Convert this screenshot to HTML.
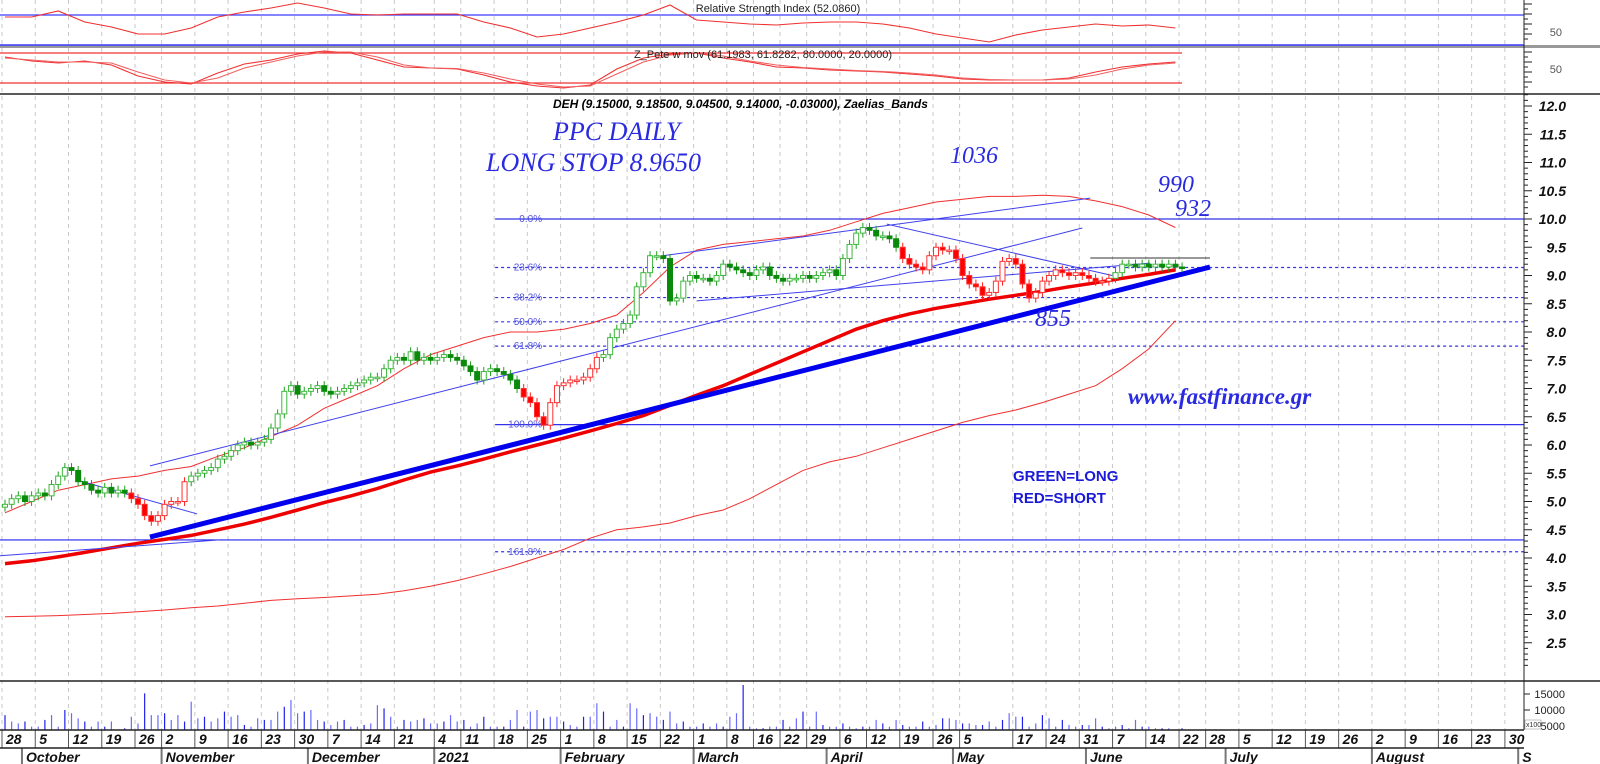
<!DOCTYPE html>
<html><head><meta charset="utf-8"><style>
html,body{margin:0;padding:0;background:#fff;overflow:hidden}
svg{display:block}
</style></head><body>
<svg id="chart" width="1600" height="764" viewBox="0 0 1600 764" xmlns="http://www.w3.org/2000/svg" font-family="'Liberation Sans',Arial,sans-serif">
<g id="grid"></g>
<g id="rsi"></g>
<g id="zp"></g>
<g id="main"></g>
<g id="vol"></g>
<g id="axis"></g>
<text x="778" y="12" font-size="11" text-anchor="middle" fill="#222">Relative Strength Index (52.0860)</text>
<text x="763" y="58" font-size="11" text-anchor="middle" fill="#222">Z_Pete w mov (61.1983, 61.8282, 80.0000, 20.0000)</text>
<text x="553" y="108" font-size="12" font-weight="bold" font-style="italic" fill="#000">DEH (9.15000, 9.18500, 9.04500, 9.14000, -0.03000), Zaelias_Bands</text>
<g style="font-family:'Liberation Serif','DejaVu Serif',serif;font-style:italic" fill="#2a2ae0">
<text x="553" y="140" font-size="26">PPC DAILY</text>
<text x="486" y="171" font-size="26">LONG STOP 8.9650</text>
<text x="950" y="163" font-size="24">1036</text>
<text x="1158" y="192" font-size="24">990</text>
<text x="1175" y="216" font-size="24">932</text>
<text x="1035" y="326" font-size="24">855</text>
<text x="1128" y="404" font-size="23" font-weight="bold">www.fastfinance.gr</text>
</g>
<text x="1013" y="481" font-size="15" font-weight="bold" fill="#1a1ad8">GREEN=LONG</text>
<text x="1013" y="503" font-size="15" font-weight="bold" fill="#1a1ad8">RED=SHORT</text>
</svg>
<script>
// ---- data ----
const closes = [4.95,5.05,5.1,5.0,5.1,5.15,5.1,5.3,5.45,5.6,
5.55,5.35,5.3,5.2,5.15,5.25,5.15,5.2,5.15,5.05,
4.95,4.75,4.65,4.75,4.95,5.0,5.0,5.35,5.45,
5.5,5.55,5.6,5.75,5.8,5.9,6.0,6.05,6.0,6.05,
6.1,6.3,6.55,6.95,7.05,6.9,6.95,7.0,7.05,6.95,
6.9,6.95,7.0,7.05,7.1,7.15,7.2,7.2,7.35,7.5,
7.55,7.5,7.65,7.5,7.55,7.5,7.55,7.6,7.55,
7.5,7.4,7.3,7.15,7.3,7.35,7.3,7.25,7.15,7.0,
6.85,6.75,6.5,6.35,6.75,7.05,7.1,7.15,7.15,7.2,
7.35,7.55,7.6,7.9,8.05,8.15,8.3,8.8,9.05,9.35,
9.35,9.3,8.55,8.6,8.9,9.0,8.95,8.95,8.9,
9.0,9.2,9.15,9.1,9.05,9.0,9.1,9.15,9.0,8.95,
8.9,8.95,8.95,9.0,8.95,9.0,9.05,9.1,9.0,9.3,
9.55,9.75,9.85,9.8,9.7,9.7,9.65,9.5,9.3,9.2,
9.15,9.1,9.35,9.5,9.45,9.45,9.3,9.0,8.85,
8.8,8.65,8.7,8.9,9.25,9.3,9.2,8.85,8.6,8.7,
8.9,9.0,9.1,9.05,9.0,9.05,9.0,8.95,8.9,8.9,
8.95,9.05,9.2,9.2,9.15,9.2,9.15,9.2,9.15,9.2,9.15,9.14];
const shortRanges = [[19,27],[78,89],[135,166]];
const volumes = [8400,6400,5800,6400,4800,4800,6900,8400,4800,10000,9000,7400,6400,4800,6400,4800,6400,3800,4300,7900,5800,15200,8400,8400,9000,6900,8400,6400,12600,7400,7900,6400,7400,9500,7900,8400,5300,4800,7400,6900,6900,9500,11000,13100,9000,9500,10000,6900,6400,5300,6400,6900,4800,4800,5300,5800,11500,10500,7900,4800,6900,6400,6900,7400,5800,5800,6400,8400,6400,6900,4800,5800,7900,4800,4800,4800,6900,10000,4800,9500,10000,7400,7900,7900,6400,5300,4800,7900,7900,12100,9500,4800,6900,4800,12100,10500,8400,9000,7900,6900,9500,5800,6400,4800,4800,5800,4800,5800,4800,7900,9000,17800,
4800,4300,4300,4800,4800,6900,4800,7400,9500,4800,9500,5300,4800,4800,5800,4800,4300,4800,4800,6900,5800,4800,6900,5300,4800,4800,6400,4800,5300,7400,7400,6900,5800,5800,5300,5300,6400,4800,6900,9000,7900,7900,4800,5800,8400,7400,4800,6900,5300,4800,5300,5300,7400,4800,4300,4800,5300,4300,6900,4800,4800,4300,4300,4300,3800,4300];
const rsiVals = [67.6,67.6,74.7,61.8,55.9,47.6,47.6,54.7,67.6,73.5,78.2,84.1,78.2,71.2,70,71.2,71.2,71.2,61.8,54.7,44.1,47.6,54.7,61.8,70,81.8,64.1,61.8,59.4,58.2,60.6,61.8,61.8,59.4,54.7,47.6,42.9,38.2,46.5,52.4,55.9,59.4,57.1,58.2,54.7];
const zpFast = [72,64,60,64,56,34,22,18,40,58,66,78,84,80,66,52,50,48,36,22,14,10,16,48,70,78,80,70,62,52,50,46,44,42,38,34,28,26,26,26,30,42,52,58,62];
const zpSlow = [70,66,62,62,60,42,26,20,30,50,62,74,82,82,72,56,50,49,40,28,18,12,14,38,62,76,80,74,64,56,51,48,45,43,40,36,30,27,26,26,28,36,48,56,60];
const bandUpper = [4.8,5.0,5.2,5.3,5.4,5.45,5.55,5.62,5.8,5.95,6.15,6.35,6.65,6.85,7.05,7.35,7.6,7.75,7.9,8.0,8.0,8.05,8.15,8.3,8.7,9.15,9.45,9.55,9.6,9.65,9.7,9.8,9.95,10.1,10.2,10.3,10.35,10.4,10.4,10.42,10.4,10.32,10.22,10.07,9.85];
const bandMid = [3.9,3.95,4.02,4.1,4.18,4.26,4.33,4.4,4.5,4.6,4.72,4.85,4.98,5.1,5.23,5.38,5.52,5.63,5.75,5.88,6.0,6.12,6.25,6.38,6.52,6.7,6.88,7.05,7.25,7.45,7.65,7.85,8.05,8.2,8.32,8.42,8.5,8.58,8.65,8.72,8.8,8.87,8.95,9.02,9.1];
const bandLower = [2.96,2.97,2.98,3.0,3.02,3.05,3.08,3.12,3.15,3.2,3.25,3.28,3.3,3.33,3.36,3.42,3.5,3.6,3.72,3.85,4.0,4.15,4.35,4.5,4.55,4.62,4.75,4.85,5.05,5.3,5.55,5.7,5.8,5.95,6.1,6.25,6.4,6.52,6.62,6.75,6.9,7.05,7.35,7.7,8.2];
const dayLabels = ["28","5","12","19","26","2","9","16","23","30","7","14","21","4","11","18","25","1","8","15","22","1","8","16","22","29","6","12","19","26","5","17","24","31","7","14","22","28","5","12","19","26","2","9","16","23","30"];
const dayIdx = [0,5,10,15,20,24,29,34,39,44,49,54,59,65,69,74,79,84,89,94,99,104,109,113,117,121,126,130,135,140,144,152,157,162,167,172,177,181,186,191,196,201,206,211,216,221,226];
const monthLabels = ["October","November","December","2021","February","March","April","May","June","July","August","S"];
const monthIdx = [3,24,46,65,84,104,124,143,163,184,206,228];
const priceTicks = [2.5,3.0,3.5,4.0,4.5,5.0,5.5,6.0,6.5,7.0,7.5,8.0,8.5,9.0,9.5,10.0,10.5,11.0,11.5,12.0];
const volTicks = [15000,10000,5000];
const fibHigh = 10.0, fibLow = 6.36, fibStart = 73.7;
const fibLevels = [0,0.236,0.382,0.5,0.618,1.0,1.618];
const hLines = [4.32];
const trendI1 = [21.8,10.8,21.8,98.9,132.6,104,163.2,-0.75];
const trendP1 = [4.37,5.38,5.63,9.35,9.91,8.55,9.31,4.04];
const trendI2 = [181.2,28.9,162,163.2,166.5,172.2,181.2,32.3];
const trendP2 = [9.15,4.78,9.84,10.37,9.0,9.22,9.31,4.32];

// ---- scales ----
const NS='http://www.w3.org/2000/svg';
const X = i => 5 + i*6.65;
const Y = p => 219 + (10-p)*56.5;
const YR = v => 15 + (70-v)*0.85;
const YZ = v => 83 - (v-20)*0.5;
const YV = v => Math.max(684, 742 - v*0.0032);
const RIGHT = 1524;
function mk(parent, tag, attrs){const e=document.createElementNS(NS,tag);for(const k in attrs)e.setAttribute(k,attrs[k]);document.getElementById(parent).appendChild(e);return e;}
const isShort = i => shortRanges.some(r=>i>=r[0]&&i<=r[1]);

dayIdx.forEach((d,k)=>{
  const gx = X(d)-3;
  const l = mk('grid','line',{x1:gx,x2:gx,y1:0,y2:730,stroke:'#c8c8c8','stroke-dasharray':'4,4','stroke-width':1});
  
  
  const s = mk('axis','line',{x1:gx,x2:gx,y1:730,y2:748,stroke:'#555','stroke-width':1});
  
  
  const t = mk('axis','text',{x:gx+4,y:744,'font-size':14,'font-weight':'bold','font-style':'italic',fill:'#111'});
  t.textContent = dayLabels[k];
  
  
});
monthIdx.forEach((m,k)=>{
  const gx = X(m)-3;
  const s = mk('axis','line',{x1:gx,x2:gx,y1:748,y2:764,stroke:'#777','stroke-width':2});
  
  
  const t = mk('axis','text',{x:gx+4,y:762,'font-size':14,'font-weight':'bold','font-style':'italic',fill:'#111'});
  t.textContent = monthLabels[k];
  
  
});
[[0,730,RIGHT,730],[0,748,RIGHT,748],[0,94,1600,94],[0,681,1600,681]].forEach(a=>{
  const l=mk('axis','line',{x1:a[0],y1:a[1],x2:a[2],y2:a[3],stroke:'#222','stroke-width':1.5});
  
  
});
let sep=mk('axis','rect',{x:0,y:45,width:1600,height:3,fill:'#999'});


sep=mk('axis','line',{x1:0,x2:RIGHT,y1:45,y2:45,stroke:'#3a3aff','stroke-width':1.5});


let ax=mk('axis','line',{x1:RIGHT,x2:RIGHT,y1:0,y2:730,stroke:'#222','stroke-width':1});


for(let p=2.1;p<=12.2;p+=0.1){
  const major = Math.abs(p*2-Math.round(p*2))<0.01;
  const t=mk('axis','line',{x1:RIGHT,x2:RIGHT+(major?8:4),y1:Y(p),y2:Y(p),stroke:'#222','stroke-width':1});
  
  
}
priceTicks.forEach(p=>{
  const t=mk('axis','text',{x:1566,y:Y(p)+5,'font-size':14,'font-weight':'bold','font-style':'italic','text-anchor':'end',fill:'#111'});
  t.textContent=p.toFixed(1);
  
  
});
[[36,'50'],[73,'50']].forEach(a=>{
  const t=mk('axis','text',{x:1562,y:a[0],'font-size':11,'text-anchor':'end',fill:'#555'});
  t.textContent=a[1];
  
  
});
for(let y=4;y<44;y+=5){const t=mk('axis','line',{x1:RIGHT,x2:RIGHT+(y%10==4?8:4),y1:y,y2:y,stroke:'#222'});}
for(let y=52;y<92;y+=5){const t=mk('axis','line',{x1:RIGHT,x2:RIGHT+(y%10==2?8:4),y1:y,y2:y,stroke:'#222'});}
volTicks.forEach(v=>{
  const t=mk('axis','text',{x:1565,y:YV(v)+4,'font-size':11,'text-anchor':'end',fill:'#222'});
  t.textContent=v;
  
  
  const k=mk('axis','line',{x1:RIGHT,x2:RIGHT+6,y1:YV(v),y2:YV(v),stroke:'#222'});
  
  
});
let xbr=mk('axis','rect',{x:1525,y:720,width:16,height:9,fill:'#fff',stroke:'#888','stroke-width':0.5});


let xb=mk('axis','text',{x:1526,y:727,'font-size':7,fill:'#333'});xb.textContent='x100';



let rl=mk('rsi','line',{x1:0,x2:RIGHT,y1:YR(70),y2:YR(70),stroke:'#3a3aff','stroke-width':1.2});


const pathOf=(arr,yf,step)=>arr.map((v,k)=>(k?'L':'M')+X(k*step).toFixed(1)+','+yf(v).toFixed(1)).join('');
let rp=mk('rsi','path',{d:pathOf(rsiVals,YR,4),fill:'none',stroke:'#f03030','stroke-width':1.1});


[80,20].forEach(v=>{const l=mk('zp','line',{x1:0,x2:X(177),y1:YZ(v),y2:YZ(v),stroke:'#f03030','stroke-width':1.2});});
let z1=mk('zp','path',{d:pathOf(zpFast,YZ,4),fill:'none',stroke:'#f03030','stroke-width':1.1});


let z2=mk('zp','path',{d:pathOf(zpSlow,YZ,4),fill:'none',stroke:'#f06060','stroke-width':1.1});



const fx = X(fibStart);
fibLevels.forEach(f=>{
  const p = fibHigh - f*(fibHigh-fibLow);
  const solid = (f===0||f===1);
  const l=mk('main','line',{x1:fx,x2:RIGHT,y1:Y(p),y2:Y(p),stroke:'#3333ee','stroke-width':1.2,'stroke-dasharray':solid?'none':'3,3'});
  
  
  const t=mk('main','text',{x:fx+47,y:Y(p)+3,'font-size':10,'text-anchor':'end',fill:'#5050e0'});
  t.textContent=(f*100).toFixed(1)+'%';
  
  
});
hLines.forEach(p=>{
  const l=mk('main','line',{x1:0,x2:RIGHT,y1:Y(p),y2:Y(p),stroke:'#2222ee','stroke-width':1.2});
  
  
});
let bu=mk('main','path',{d:pathOf(bandUpper,Y,4),fill:'none',stroke:'#f03030','stroke-width':1});


let bl=mk('main','path',{d:pathOf(bandLower,Y,4),fill:'none',stroke:'#f03030','stroke-width':1});


let bm=mk('main','path',{d:pathOf(bandMid,Y,4),fill:'none',stroke:'#ee0000','stroke-width':3.5});


trendI1.forEach((v,k)=>{
  const thick = k===0;
  const col = k===6 ? '#333' : (thick?'#0000ee':'#4040ee');
  const l=mk('main','line',{x1:X(v),y1:Y(trendP1[k]),x2:X(trendI2[k]),y2:Y(trendP2[k]),stroke:col,'stroke-width':thick?5:1});
  
  
});
closes.forEach((c,i)=>{
  const o = i? closes[i-1] : c-0.05;
  const hi = Math.max(o,c)+0.08, lo = Math.min(o,c)-0.08;
  const sh = isShort(i);
  const col = sh ? '#ff2020' : '#1f9e1f';
  const up = c>=o;
  const x = X(i);
  const w = mk('main','line',{x1:x,x2:x,y1:Y(hi),y2:Y(lo),stroke:col,'stroke-width':1});
  
  
  const top=Y(Math.max(o,c)), h=Math.max(1.5,Y(Math.min(o,c))-top);
  const b = mk('main','rect',{x:x-2.5,y:top,width:5,height:h,fill:up?'#fff':(sh?'#ff0000':'#0a8a0a'),stroke:sh?'#ff3030':(up?'#3cb83c':'#0a8a0a'),'stroke-width':1});
  
  
});
volumes.forEach((v,i)=>{
  const b=mk('vol','line',{x1:X(i),x2:X(i),y1:730,y2:YV(v),stroke:i%3==0?'#2020ee':'#6a6aff','stroke-width':1.2});
  
  
});
</script>
</body></html>
